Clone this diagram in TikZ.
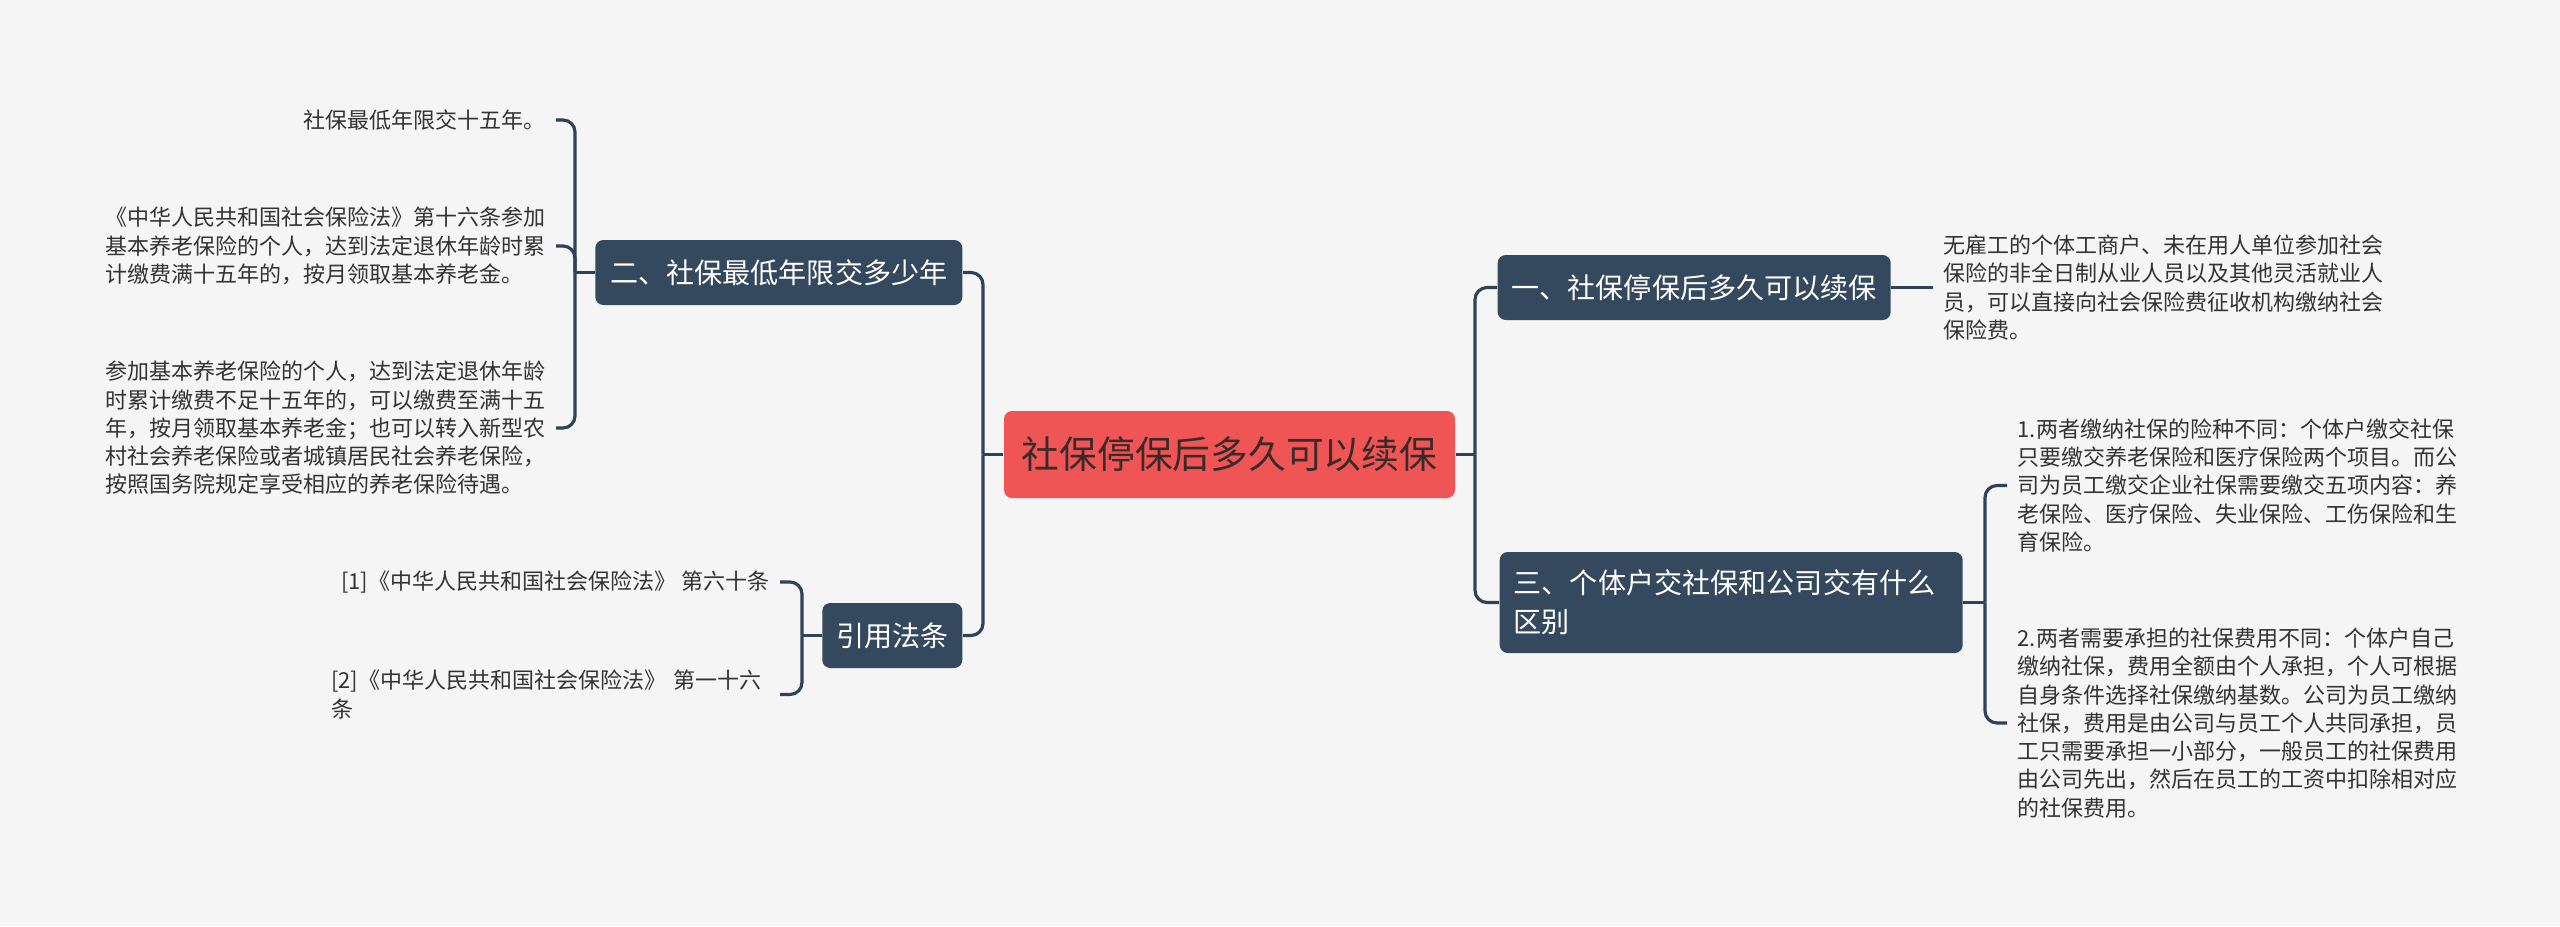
\documentclass[tikz,border=0pt]{standalone}
\usepackage{fontspec}
\setmainfont{Noto Sans CJK SC}
\usepackage{xcolor}
\usetikzlibrary{positioning,calc}
\definecolor{bgpaper}{HTML}{F5F5F5}
\definecolor{slate}{HTML}{34495E}
\definecolor{wirecol}{HTML}{2E4359}
\definecolor{rootred}{HTML}{EF5555}
\definecolor{rootink}{HTML}{3B2A2A}
\definecolor{leafink}{HTML}{333333}
\tikzset{
  rootbox/.style={fill=rootred,text=rootink,rounded corners=0.08cm,
                  minimum width=4.51cm,minimum height=0.87cm,inner sep=0pt,
                  font=\fontsize{10.75pt}{13pt}\selectfont},
  topicbox/.style={fill=slate,text=white,rounded corners=0.08cm,
                   minimum height=0.65cm,inner sep=0pt,
                   font=\fontsize{8pt}{11.1pt}\selectfont},
  leaftext/.style={text=leafink,align=left,inner xsep=0.1cm,inner ysep=0pt,
                   font=\fontsize{6.26pt}{8.05pt}\selectfont},
  wire/.style={draw=wirecol,line width=0.9pt,rounded corners=0.12cm}
}

\begin{document}
\begin{tikzpicture}[x=1cm,y=1cm]
    \fill[bgpaper] (0,0) rectangle (25.6,-9.26);
    \useasboundingbox (0,0) rectangle (25.6,-9.26);
    % centre and the four topics
    \node[rootbox] (root) at (12.295,-4.545) {社保停保后多久可以续保};
    \node[topicbox,minimum width=3.67cm,anchor=east] (t2) at (9.63,-2.725)
      {二、社保最低年限交多少年};
    \node[topicbox,minimum width=1.40cm,anchor=east] (cite) at (9.63,-6.355)
      {引用法条};
    \node[topicbox,minimum width=3.93cm,anchor=west] (t1) at (14.97,-2.875)
      {一、社保停保后多久可以续保};
    \node[topicbox,text width=4.35cm,align=left,inner xsep=0.14cm,
          minimum height=1.01cm,anchor=west] (t3) at (14.99,-6.025)
      {三、个体户交社保和公司交有什么\\区别};
    \coordinate (jl) at (9.83,-4.545);
    \coordinate (jr) at (14.75,-4.545);
    \draw[wire] (root.west) -- (jl);
    \draw[wire] (jl) |- (t2.east);
    \draw[wire] (jl) |- (cite.east);
    \draw[wire] (root.east) -- (jr);
    \draw[wire] (jr) |- (t1.west);
    \draw[wire] (jr) |- (t3.west);
    % leaves of topic two
    \node[leaftext,anchor=east] (a1) at (5.56,-1.20) {社保最低年限交十五年。};
    \node[leaftext,anchor=east] (a2) at (5.56,-2.46)
      {《中华人民共和国社会保险法》第十六条参加\\
       基本养老保险的个人，达到法定退休年龄时累\\
       计缴费满十五年的，按月领取基本养老金。};
    \node[leaftext,anchor=east] (a3) at (5.56,-4.28)
      {参加基本养老保险的个人，达到法定退休年龄\\
       时累计缴费不足十五年的，可以缴费至满十五\\
       年，按月领取基本养老金；也可以转入新型农\\
       村社会养老保险或者城镇居民社会养老保险，\\
       按照国务院规定享受相应的养老保险待遇。};
    \coordinate (ja) at (5.75,-2.725);
    \draw[wire] (t2.west) -- (ja);
    \draw[wire] (ja) |- (a1.east);
    \draw[wire] (ja) |- (a2.east);
    \draw[wire] (ja) |- (a3.east);
    % cited articles
    \node[leaftext,anchor=east] (c1) at (7.80,-5.82)
      {[1]《中华人民共和国社会保险法》 第六十条};
    \node[leaftext,anchor=east,text width=4.38cm] (c2) at (7.80,-6.945)
      {[2]《中华人民共和国社会保险法》 第一十六\\条};
    \coordinate (jc) at (8.02,-6.355);
    \draw[wire] (cite.west) -- (jc);
    \draw[wire] (jc) |- (c1.east);
    \draw[wire] (jc) |- (c2.east);
    % right hand leaves
    \node[leaftext,anchor=west] (r0) at (19.33,-2.875)
      {无雇工的个体工商户、未在用人单位参加社会\\
       保险的非全日制从业人员以及其他灵活就业人\\
       员，可以直接向社会保险费征收机构缴纳社会\\
       保险费。};
    \draw[wire] (t1.east) -- (r0.west);
    \node[leaftext,anchor=west] (r1) at (20.07,-4.855)
      {1.两者缴纳社保的险种不同：个体户缴交社保\\
       只要缴交养老保险和医疗保险两个项目。而公\\
       司为员工缴交企业社保需要缴交五项内容：养\\
       老保险、医疗保险、失业保险、工伤保险和生\\
       育保险。};
    \node[leaftext,anchor=west] (r2) at (20.07,-7.23)
      {2.两者需要承担的社保费用不同：个体户自己\\
       缴纳社保，费用全额由个人承担，个人可根据\\
       自身条件选择社保缴纳基数。公司为员工缴纳\\
       社保，费用是由公司与员工个人共同承担，员\\
       工只需要承担一小部分，一般员工的社保费用\\
       由公司先出，然后在员工的工资中扣除相对应\\
       的社保费用。};
    \coordinate (jt) at (19.85,-6.025);
    \draw[wire] (t3.east) -- (jt);
    \draw[wire] (jt) |- (r1.west);
    \draw[wire] (jt) |- (r2.west);
\end{tikzpicture}
\end{document}
